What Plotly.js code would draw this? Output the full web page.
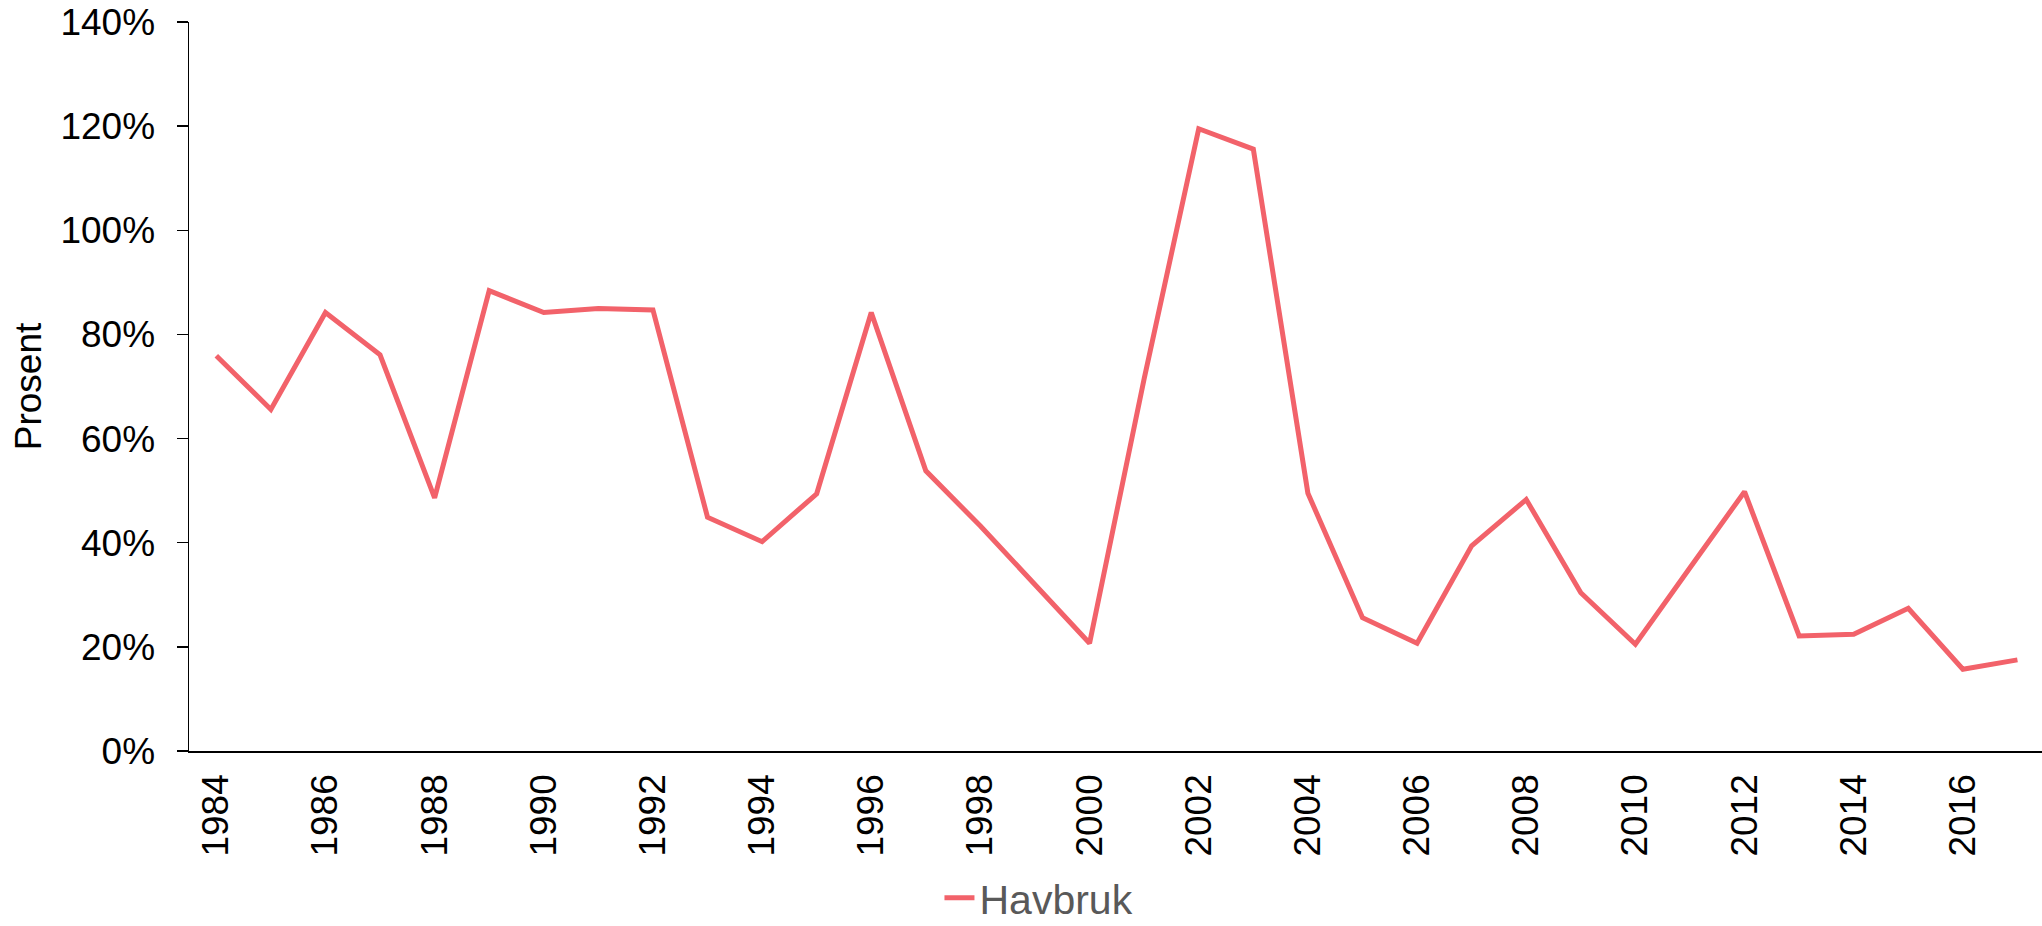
<!DOCTYPE html>
<html>
<head>
<meta charset="utf-8">
<script src="https://cdn.plot.ly/plotly-3.0.1.min.js"></script>
<style>html,body{margin:0;padding:0;background:#fff;}#chart{width:2042px;height:926px;}</style>
</head>
<body>
<div id="chart"></div>
<script>
const years = [1984,1985,1986,1987,1988,1989,1990,1991,1992,1993,1994,1995,1996,1997,1998,1999,2000,2001,2002,2003,2004,2005,2006,2007,2008,2009,2010,2011,2012,2013,2014,2015,2016,2017];
const havbruk = [75.9,65.6,84.2,76.1,48.6,88.4,84.2,85.0,84.7,44.9,40.2,49.4,84.2,53.8,43.2,31.9,20.7,71.5,119.5,115.6,49.5,25.6,20.7,39.4,48.3,30.4,20.5,35.2,49.8,22.1,22.4,27.4,15.7,17.5];
const seriesName = "Havbruk";
const yTicks = [0,20,40,60,80,100,120,140];
const yTickText = yTicks.map(v => v + "%");
const xTicks = years.filter((y, i) => i % 2 === 0);

const font = "Liberation Sans, Arial, sans-serif";
Plotly.newPlot("chart", [{
  x: years, y: havbruk, type: "scatter", mode: "lines", name: seriesName,
  line: {color: "#F2626A", width: 5}
}], {
  width: 2042, height: 926,
  margin: {l: 189, r: 0, t: 22, b: 175, pad: 0},
  paper_bgcolor: "#fff", plot_bgcolor: "#fff",
  font: {family: font, color: "#000"},
  showlegend: true,
  legend: {orientation: "h", x: 0.405, xanchor: "left", yref: "container", y: 0.03, yanchor: "middle",
           font: {size: 41, color: "#595959", family: font}},
  xaxis: {
    type: "linear", range: [1983.5, 2017.45], tickvals: xTicks, ticktext: xTicks.map(String),
    tickangle: -90, ticks: "", showgrid: false, zeroline: false,
    showline: true, linecolor: "#000", linewidth: 1.5, ticklabelstandoff: 7,
    tickfont: {size: 37, color: "#000", family: font}
  },
  yaxis: {
    range: [0, 140], tickvals: yTicks, ticktext: yTickText,
    ticks: "outside", ticklen: 11, tickwidth: 1.5, tickcolor: "#000",
    showgrid: false, zeroline: false, showline: true, linecolor: "#000", linewidth: 1.5,
    ticklabelstandoff: 14,
    tickfont: {size: 37, color: "#000", family: font},
    title: {text: "Prosent", font: {size: 37, color: "#000", family: font}, standoff: 7}
  }
}, {displayModeBar: false, staticPlot: true});
</script>
</body>
</html>
